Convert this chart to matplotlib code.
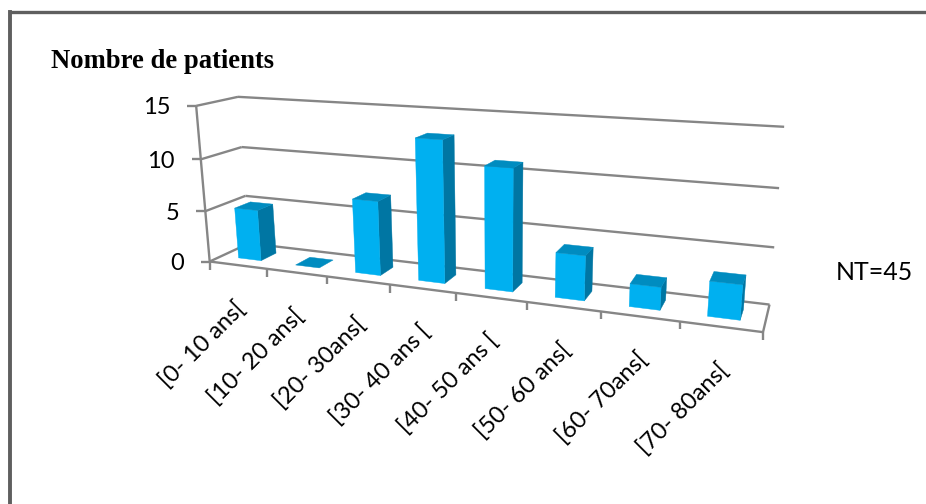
import numpy as np
import matplotlib
matplotlib.use('Agg')
import matplotlib.pyplot as plt
from matplotlib.collections import PolyCollection

categories = ['[0- 10 ans[', '[10- 20 ans[', '[20- 30ans[', '[30- 40 ans [',
              '[40- 50 ans [', '[50- 60 ans[', '[60- 70ans[', '[70- 80ans[']
patients = [5, 0, 7, 13, 11, 4, 2, 3]
value_ticks = [0, 5, 10, 15]

GRID = '#868686'
FRONT = '#00B0F0'
SIDE = '#0076A3'
TOP = '#008CC0'
FRAME = '#5F5F5F'

# camera: (category, value, depth) -> figure pixels, solved from the box corners
box_cat = [0, 0, 0, 0, 0, 0, 0, 0, 8, 8, 8, 8, 8]
box_val = [0, 5, 10, 15, 0, 5, 10, 15, 0, 5, 10, 15, 0]
box_dep = [0, 0, 0, 0, 1, 1, 1, 1, 1, 1, 1, 1, 0]
box_px = [210, 205, 201, 196, 248, 246, 243, 237, 769, 775, 779, 784, 763]
box_py = [262, 211, 159, 106, 243, 196, 147, 97, 305, 247, 188, 127, 332]


def solve_camera():
    rows = []
    for c, v, d, px, py in zip(box_cat, box_val, box_dep, box_px, box_py):
        rows.append([c, v, d, 1, 0, 0, 0, 0, -px * c, -px * v, -px * d, -px])
        rows.append([0, 0, 0, 0, c, v, d, 1, -py * c, -py * v, -py * d, -py])
    return np.linalg.svd(np.array(rows, dtype=float))[2][-1].reshape(3, 4)


camera = solve_camera()


def project(c, v, d):
    p = camera @ np.array([c, v, d, 1.0])
    return p[0] / p[2], p[1] / p[2]


fig = plt.figure(figsize=(9.26, 5.04), dpi=100)
ax = fig.add_axes([0, 0, 1, 1])
ax.set_xlim(0, 926)
ax.set_ylim(504, 0)
ax.axis('off')


def line(a, b, **kw):
    ax.plot([a[0], b[0]], [a[1], b[1]], color=GRID, lw=1.7, solid_capstyle='butt', **kw)


# walls and floor
for v in value_ticks:
    line(project(0, v, 0), project(0, v, 1))
    line(project(0, v, 1), project(8, v, 1))
    x0, y0 = project(0, v, 0)
    line((x0 - 9, y0), (x0, y0))
    ax.text(x0 - 26, y0 + 2, str(v), ha='right', va='center', fontsize=17, family='Lato', color='black')
line(project(0, 0, 0), project(0, 15, 0))
line(project(0, 0, 0), project(8, 0, 0))
line(project(8, 0, 0), project(8, 0, 1))
for i in range(len(categories) + 1):
    x0, y0 = project(i, 0, 0)
    line((x0, y0), (x0, y0 + 8))

# bars, each a box of three visible faces
d0, d1 = 0.3, 0.7
c0, c1 = 0.3, 0.7
faces, colors = [], []
for i, n in enumerate(patients):
    l, r = i + c0, i + c1
    if n > 0:
        faces.append([project(r, 0, d0), project(r, 0, d1), project(r, n, d1), project(r, n, d0)])
        colors.append(SIDE)
        faces.append([project(l, 0, d0), project(r, 0, d0), project(r, n, d0), project(l, n, d0)])
        colors.append(FRONT)
    faces.append([project(l, n, d0), project(r, n, d0), project(r, n, d1), project(l, n, d1)])
    colors.append(TOP)
ax.add_collection(PolyCollection(faces, facecolors=colors, edgecolors=colors, linewidths=0.3, zorder=3))

# category labels
for i, label in enumerate(categories):
    x0, y0 = project(i + 0.5, 0, 0)
    ax.text(x0 + 4, y0 + 40, label, rotation=45, rotation_mode='anchor', ha='right', va='center',
            fontsize=17, family='Lato', color='black')

ax.text(51, 61, 'Nombre de patients', fontsize=19.2, family='Liberation Serif', weight='bold',
        ha='left', va='center', color='black')
ax.text(836, 273, 'NT=45', fontsize=17.9, family='Lato', ha='left', va='center', color='black')

# page frame
ax.plot([10, 10], [504, 11.5], color=FRAME, lw=2.8, solid_capstyle='projecting')
ax.plot([10, 926], [11.5, 11.5], color=FRAME, lw=2.4, solid_capstyle='butt')

fig.savefig('out.png', dpi=100)
